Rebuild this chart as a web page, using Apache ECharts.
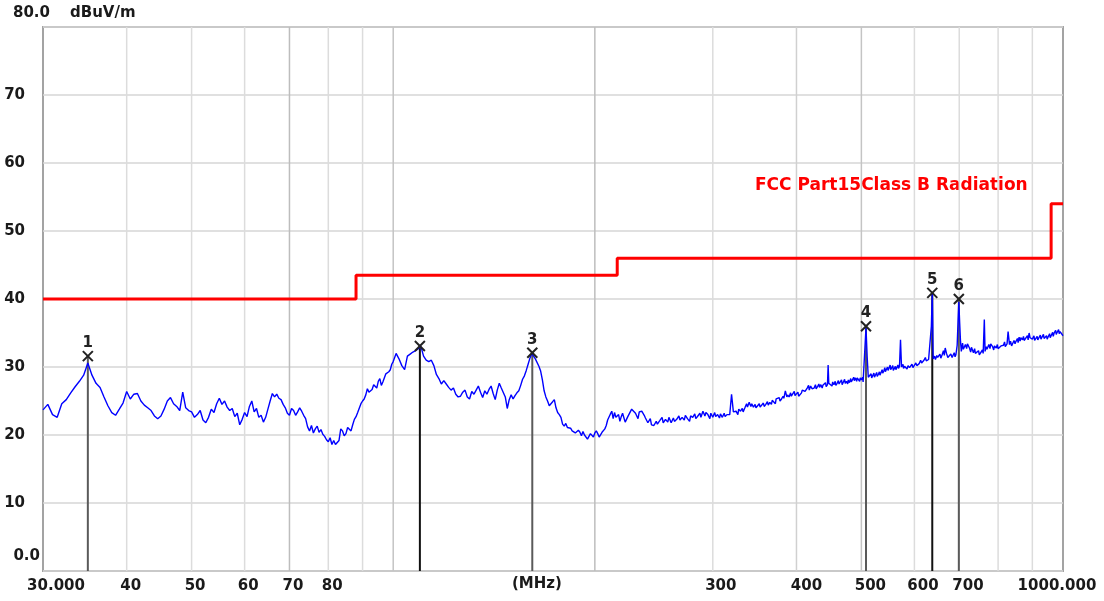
<!DOCTYPE html>
<html><head><meta charset="utf-8">
<script src="https://cdn.jsdelivr.net/npm/echarts/dist/echarts.min.js"></script>
<style>html,body{margin:0;padding:0;background:#fff}#c{width:1104px;height:601px}</style>
</head><body><div id="c"></div>
<script>
// ---------- data ----------
// measured trace: [frequency MHz, level dBuV/m]
const tracePoints = [
 [30,23.7],[30.5,24.5],[31,23.0],[31.5,22.6],[32,24.6],[32.5,25.2],[33,26.2],[33.5,27.1],[34,27.9],[34.5,28.8],[35,30.6],[35.5,28.8],[36,27.6],[36.5,27.0],[37,25.6],[37.5,24.3],[38,23.3],[38.5,22.9],[39,23.8],[39.5,24.7],[40,26.4],[40.5,25.3],[41,26.0],[41.5,26.1],[42,25.0],[42.5,24.4],[43,24.0],[43.5,23.6],[44,22.8],[44.5,22.4],[45,22.8],[45.5,23.8],[46,25.0],[46.5,25.5],[47,24.6],[47.5,24.2],[48,23.6],[48.5,26.3],[49,24.0],[49.5,23.6],
 [50,23.4],[50.5,22.6],[51,23.0],[51.5,23.6],[52,22.2],[52.5,21.8],[53,22.6],[53.5,23.8],[54,23.3],[54.5,24.6],[55,25.4],[55.5,24.5],[56,25.0],[56.5,24.1],[57,23.6],[57.5,23.9],[58,22.7],[58.5,23.2],[59,21.5],[59.5,22.3],[60,23.3],[60.5,22.7],[61,24.2],[61.5,25.0],[62,23.4],[62.5,23.9],[63,22.6],[63.5,22.9],[64,21.9],[64.5,22.6],[65,23.8],[65.5,25.0],[66,26.1],[66.5,25.6],[67,26.0],[67.5,25.4],[68,25.2],[68.5,24.5],[69,24.0],[69.5,23.2],[70,22.9],[70.5,23.9],[71,23.6],[71.5,22.9],[72,23.4],[72.5,24.0],[73,23.5],[73.5,22.9],[74,22.4],[74.5,21.2],[75,20.6],[75.5,21.4],[76,20.3],[76.5,20.9],[77,21.3],[77.5,20.4],[78,20.8],[78.5,20.1],[79,19.8],[79.5,19.3],[80,19.0],[80.5,19.6],[81,18.6],[81.5,19.2],[82,18.6],[82.5,18.9],[83,19.2],[83.5,20.9],[84,20.6],[84.5,19.9],[85,20.2],[85.5,21.1],[86,21.0],[86.5,20.6],[87,21.5],[87.5,22.3],[88,22.7],[88.5,23.3],[89,23.5],[89.5,24.6],[90,25.0],[90.5,25.3],[91,25.9],[91.5,26.8],[92,26.3],[92.5,26.1],[93,26.7],[93.5,27.4],[94,27.5],[94.5,26.9],[95,27.9],[95.5,28.3],[96,27.3],[96.5,27.8],[97,28.0],[97.5,29.0],[98,28.8],[98.5,29.3],[99,29.6],[99.5,30.4],
 [100,30.8],[101,32.0],[102,31.2],[103,30.2],[104,29.6],[105,31.6],[106,31.9],[107,32.2],[108,32.4],[109,32.7],[110,33.0],[111,31.6],[112,31.0],[113,30.8],[114,31.0],[115,30.2],[116,28.9],[117,28.3],[118,27.5],[119,28.0],[120,27.5],[121,27.0],[122,26.6],[123,26.9],[124,26.0],[125,25.6],[126,25.7],[127,26.3],[128,26.6],[129,25.6],[130,25.3],[131,26.4],[132,26.0],[133,26.6],[134,27.2],[135,26.3],[136,25.5],[137,26.5],[138,26.0],[139,26.7],[140,27.2],[141,26.1],[142,25.2],[143,26.6],[144,27.6],[145,26.9],[146,26.8],[147,25.6],[148,23.9],[149,25.2],[150,25.9],[151,25.3],[152,25.8],[153,26.2],[154,26.5],[155,27.3],[156,28.2],[157,28.7],[158,29.5],[159,30.4],[160,31.3],[161,32.0],[162,31.8],[163,31.2],[164,31.0],[165,30.1],[166,29.4],[167,28.1],[168,26.5],[169,25.6],[170,25.0],[171,24.3],[172,24.1],[173,24.9],[174,25.2],[175,24.0],
 [176,23.3],[177,23.0],[178,22.6],[179,21.6],[180,21.3],[181,21.7],[182,21.1],[183,21.3],[184,21.0],[185,20.6],[186,20.8],[187,20.3],[188,20.1],[189,20.7],[190,20.4],[191,19.9],[192,20.5],[193,20.0],[194,19.8],[195,19.4],[196,19.6],[197,20.2],[198,20.1],[199,19.7],[200,20.3],[201,20.6],[202,20.2],[203,19.7],[204,19.9],[205,20.4],[206,20.5],[207,20.9],[208,21.4],[209,22.2],[210,22.0],[211,23.1],[212,23.5],[213,22.4],[214,23.3],[215,22.6],[216,22.4],[217,23.0],[218,22.0],[219,22.7],[220,23.2],
 [222,21.9],[224,22.7],[225,22.9],[227,23.8],[228,23.6],[230,23.2],[232,22.4],[233,23.4],[235,23.5],[237,22.9],[238,22.5],[240,21.8],[242,22.4],[243,21.5],[245,21.4],[247,22.0],[248,21.6],[250,22.1],[252,22.6],[253,21.8],[255,22.3],[257,21.9],[258,22.6],[260,21.8],[262,22.5],[263,22.0],[265,22.3],[267,22.8],[268,22.2],[270,22.6],[272,22.2],[273,22.9],[275,22.4],[277,22.0],[278,22.8],[280,22.6],[282,23.1],[283,22.4],[285,22.8],[287,23.2],[288,22.6],[290,23.5],[292,22.8],[293,23.3],[295,23.0],[297,22.4],[298,23.2],[300,22.6],[302,23.3],[303,22.7],[305,23.0],[307,22.5],[308,23.1],[310,22.6],[312,23.2],[313,22.7],[315,23.0],[318,23.0],[320,26.0],[322,23.4],[325,23.5],[327,23.0],[328,23.8],[330,23.5],[332,23.9],[333,23.4],[335,24.0],[337,24.6],[338,24.1],[340,24.8],[342,24.2],[343,24.6],[345,24.1],[347,24.5],[348,24.0],[350,24.3],[352,24.6],[353,24.1],[355,24.3],[357,24.7],[358,24.2],[360,24.5],[362,24.9],[363,24.4],[365,24.8],[367,24.5],[368,25.1],[370,25.0],[372,24.6],[373,25.3],[375,25.1],[377,25.5],[378,25.0],[380,25.3],[382,25.7],[383,25.4],[385,26.5],[387,25.6],[388,25.9],[390,25.6],[392,26.2],[393,25.7],[395,25.9],[397,26.4],[398,25.8],[400,25.8],[402,26.3],[403,25.7],[405,25.7],[407,26.2],[408,26.6],[410,26.5],
 [412,26.4],[415,26.9],[417,27.3],[418,26.6],[420,27.2],[422,26.8],[423,27.0],[425,26.9],[427,27.4],[428,26.8],[430,27.1],[432,27.5],[433,27.0],[435,27.4],[437,26.9],[438,27.3],[440,27.2],[442,27.7],[443,27.1],[445,27.4],[446,30.3],[447,27.6],[450,27.7],[452,27.2],[453,27.8],[455,27.4],[457,27.9],[458,27.3],[460,27.6],[462,28.0],[463,27.5],[465,27.7],[467,28.1],[468,27.4],[470,27.8],[472,28.2],[473,27.6],[475,27.9],[477,27.5],[478,28.1],[480,27.7],[482,28.3],[483,27.8],[485,28.0],[487,28.5],[488,28.0],[490,28.4],[492,27.9],[493,28.4],[495,28.2],[497,27.9],[498,28.4],[500,28.1],[502,28.5],[503,27.8],[505,27.9],[508,35.8],[510,31.6],[512,28.5],[515,28.6],[517,29.0],[518,28.4],[520,28.6],[522,29.1],[523,28.5],[525,28.7],[527,29.2],[528,28.6],[530,28.9],[532,29.3],[533,28.8],[535,29.0],[537,29.6],[538,29.1],[540,29.4],[542,29.9],[543,29.3],[545,29.5],[547,30.0],[548,29.5],[550,29.9],[552,30.3],[553,29.6],[555,29.8],[557,30.2],[558,29.5],[560,29.6],[562,30.1],[563,29.6],[565,29.8],[567,30.3],[568,29.8],[570,30.1],[572,34.0],[574,30.0],[577,30.4],[578,29.8],[580,30.1],[585,29.7],[587,30.2],[590,29.9],[595,30.4],[597,29.9],[600,30.1],[603,30.6],[605,30.2],[610,30.5],[613,31.0],[615,30.6],[620,31.0],[623,31.4],[625,30.9],[630,31.1],[634,31.2],[636,36.0],[638,41.0],[640,31.2],[643,31.6],[645,31.1],[648,31.7],[650,31.4],[655,31.9],[657,31.3],[660,31.8],[663,32.4],[665,31.7],[667,32.8],[670,32.0],[673,31.4],[675,31.3],[680,31.9],[683,31.4],[685,31.6],[688,32.1],[690,31.5],[692,31.8],[695,33.2],[697,36.5],[699,39.6],[701,36.5],[703,33.8],[705,32.3],[708,33.5],[710,32.6],[715,33.3],[718,32.7],[720,33.4],[725,32.8],[728,32.2],[730,32.9],[735,32.1],[738,32.7],[740,32.0],[745,31.9],[748,32.4],[750,31.8],[755,31.8],[758,32.5],[760,32.0],[763,37.0],[765,32.3],[768,33.0],[770,32.6],[775,33.3],[778,32.7],[780,33.4],[785,33.0],[788,32.5],[790,33.1],[795,32.8],[798,33.3],[800,32.7],[805,32.6],[808,33.1],[810,32.9],[815,33.2],[818,33.7],[820,33.0],[825,33.4],[828,35.2],[832,33.3],[835,33.8],[838,33.1],[840,33.3],[845,33.9],[848,33.4],[850,33.7],[855,34.2],[857,33.6],[860,34.4],[863,33.8],[865,34.3],[870,34.0],[873,34.5],[875,33.9],[880,33.8],[885,34.6],[887,34.0],[890,35.0],[893,34.3],[895,34.1],[900,34.1],[905,34.6],[907,33.9],[910,34.0],[915,34.5],[917,34.0],[920,34.2],[925,34.7],[927,34.1],[930,34.3],[935,34.8],[937,34.2],[940,34.0],[945,34.6],[947,34.1],[950,34.4],[955,34.9],[957,34.3],[960,34.6],[965,35.1],[967,34.5],[970,35.0],[975,35.4],[977,34.8],[980,35.1],[985,35.5],[987,34.9],[990,35.2],[995,35.0],[1000,34.6]
];
const limitFreq  = [30, 88, 88, 216, 216, 960, 960, 1000];
const limitLevel = [40, 40, 43.5, 43.5, 46, 46, 54, 54];
const limitName = 'FCC Part15Class B Radiation';

const markerFreq  = [35.0, 109.6, 161.3, 508, 638, 699];
const markerLevel = [31.6, 33.1, 32.1, 36.0, 40.9, 40.0];
const markerNames = ['1', '2', '3', '4', '5', '6'];

const gridFreq  = [40, 50, 60, 70, 80, 90, 100, 200, 300, 400, 500, 600, 700, 800, 900];
const xTickFreq = [30, 40, 50, 60, 70, 80, 300, 400, 500, 600, 700, 1000];
const xTickText = ['30.000', '40', '50', '60', '70', '80', '300', '400', '500', '600', '700', '1000.000'];
const yMin = 0, yMax = 80, yStep = 10;
const unitY = 'dBuV/m', unitX = '(MHz)';

// ---------- styles (kept apart from data) ----------
const FONT = 'bold 15px "DejaVu Sans"';
const TXT = '#1a1a1a';
const gridStroke = ['#dcdcdc','#dcdcdc','#dcdcdc','#bdbdbd','#dcdcdc','#dcdcdc','#c4c4c4','#bdbdbd','#dcdcdc','#d0d0d0','#c4c4c4','#dcdcdc','#dcdcdc','#dcdcdc','#dcdcdc'];
const xTickDx = [13, 4, 3.5, 3.5, 3.5, 4, 8, 10, 9, 8.5, 8.7, -6];
const markerStroke = ['#5a5a5a', '#111', '#5a5a5a', '#5a5a5a', '#111', '#5a5a5a'];

const chart = echarts.init(document.getElementById('c'), null, {renderer: 'canvas'});
chart.setOption({
  animation: false,
  backgroundColor: '#fff',
  grid: {left: 43, right: 41, top: 27, bottom: 30, show: true, borderColor: '#a3a3a3', borderWidth: 2, backgroundColor: 'transparent', outerBoundsMode: 'none'},
  xAxis: {type: 'log', logBase: 10, min: 30, max: 1000,
    axisLine: {show: false}, axisTick: {show: false}, axisLabel: {show: false}, splitLine: {show: false}},
  yAxis: {type: 'value', min: yMin, max: yMax, interval: yStep,
    axisLine: {show: false}, axisTick: {show: false},
    axisLabel: {margin: 18, color: TXT, fontFamily: 'DejaVu Sans', fontWeight: 'bold', fontSize: 15,
      formatter: v => (v === yMin || v === yMax) ? '' : String(v)},
    splitLine: {show: true, lineStyle: {color: '#d6d6d6', width: 1.5}}},
  graphic: [
    {type: 'text', left: 13, top: 6, style: {text: yMax.toFixed(1), font: FONT, fill: TXT}},
    {type: 'text', left: 70, top: 6, style: {text: unitY, font: FONT, fill: TXT}},
    {type: 'text', right: 1104 - 40, top: 549, style: {text: yMin.toFixed(1), font: FONT, fill: TXT}},
    {type: 'text', left: 512, top: 577, style: {text: unitX, font: FONT, fill: TXT}},
    {type: 'text', left: 755, top: 177, style: {text: limitName, font: 'bold 17px "DejaVu Sans"', fill: '#ff0000'}}
  ],
  series: [
    { // vertical grid lines at decade subdivisions
      type: 'custom', silent: true, z: 0, clip: false,
      data: gridFreq.map(f => [f, 0]), encode: {x: 0, y: 1},
      renderItem: (params, api) => {
        const f = api.value(0);
        const a = api.coord([f, yMin]), b = api.coord([f, yMax]);
        return {type: 'line', shape: {x1: a[0], y1: a[1], x2: b[0], y2: b[1]},
          style: {stroke: gridStroke[params.dataIndex], lineWidth: 1.5}};
      }
    },
    { // x tick labels
      type: 'custom', silent: true, z: 1, clip: false,
      data: xTickFreq.map(f => [f, 0]), encode: {x: 0, y: 1},
      renderItem: (params, api) => {
        const p = api.coord([api.value(0), yMin]);
        return {type: 'text', x: p[0] + xTickDx[params.dataIndex], y: p[1] + 15,
          style: {text: xTickText[params.dataIndex], font: FONT, fill: TXT, align: 'center', verticalAlign: 'middle'}};
      }
    },
    { // marker stems (under the trace)
      type: 'custom', silent: true, z: 2, clip: false,
      data: markerFreq.map((f, i) => [f, markerLevel[i]]), encode: {x: 0, y: 1},
      renderItem: (params, api) => {
        const f = api.value(0), l = api.value(1);
        const a = api.coord([f, yMin]), b = api.coord([f, l]);
        return {type: 'line', shape: {x1: a[0], y1: a[1], x2: b[0], y2: b[1]},
          style: {stroke: markerStroke[params.dataIndex], lineWidth: 2}};
      }
    },
    {
      name: 'trace', type: 'line', z: 3, silent: true,
      data: tracePoints,
      showSymbol: false, symbol: 'none',
      lineStyle: {color: '#0000ff', width: 1.4}
    },
    {
      name: limitName, type: 'line', z: 4, silent: true,
      data: limitFreq.map((f, i) => [f, limitLevel[i]]),
      showSymbol: false, symbol: 'none',
      lineStyle: {color: '#ff0000', width: 3}
    },
    { // marker crosses and numbers
      type: 'custom', silent: true, z: 5, clip: false,
      data: markerFreq.map((f, i) => [f, markerLevel[i]]), encode: {x: 0, y: 1},
      renderItem: (params, api) => {
        const p = api.coord([api.value(0), api.value(1)]);
        const s = 5;
        return {type: 'group', children: [
          {type: 'line', shape: {x1: p[0] - s, y1: p[1] - s, x2: p[0] + s, y2: p[1] + s}, style: {stroke: '#222', lineWidth: 2}},
          {type: 'line', shape: {x1: p[0] - s, y1: p[1] + s, x2: p[0] + s, y2: p[1] - s}, style: {stroke: '#222', lineWidth: 2}},
          {type: 'text', x: p[0], y: p[1] - 13, style: {text: markerNames[params.dataIndex], font: FONT, fill: '#222', align: 'center', verticalAlign: 'middle'}}
        ]};
      }
    }
  ]
});
</script>
</body></html>
